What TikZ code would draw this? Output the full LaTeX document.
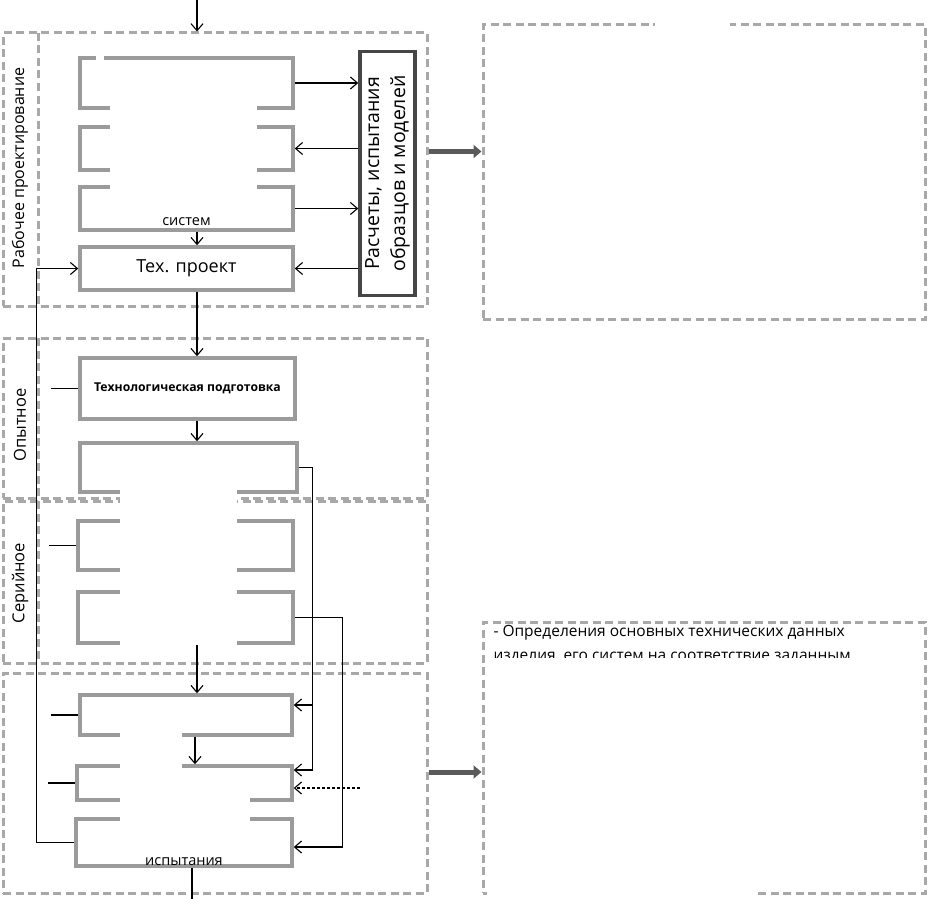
\documentclass[tikz,border=0pt]{standalone}
\usepackage{fontspec}
\setmainfont{Open Sans}
\usetikzlibrary{arrows.meta,positioning}
\definecolor{boxgray}{RGB}{155,155,155}
\definecolor{zonegray}{RGB}{168,168,168}
\definecolor{calcdark}{RGB}{70,70,70}
\definecolor{bigarrowgray}{RGB}{90,90,90}
\tikzset{arr/.style={-{Straight Barb[length=7pt,width=12pt]},line width=1.1pt},
 link/.style={line width=1.1pt},
 stagebox/.style={draw=boxgray,line width=3.5pt,minimum width=213pt,inner sep=2pt},
 zone/.style={draw=zonegray,line width=3pt,dash pattern=on 8pt off 4.5pt},
 bigarrow/.style={-{Triangle[length=8pt,width=13pt]},line width=5pt,bigarrowgray},
 patch/.style={fill=white,draw=none},
 every node/.style={font=\fontsize{14.5}{16}\selectfont}}

\begin{document}
\begin{tikzpicture}[x=1pt,y=-1pt]
\useasboundingbox (0,0) rectangle (929,899);
% stage zones
\node[zone,minimum width=424pt,minimum height=273pt] (s1) at (215,169.5) {};
\node[zone,minimum width=424pt,minimum height=160pt] (s2) at (215,418) {};
\node[zone,minimum width=424pt,minimum height=162pt] (s3) at (215,582) {};
\node[zone,minimum width=424pt,minimum height=220pt] (s4) at (215,783) {};
\node[zone,minimum width=442pt,minimum height=294pt] (r1) at (704,172) {};
\node[zone,minimum width=442pt,minimum height=271pt] (r2) at (704,757.5) {};
\draw[zone] (38,33)--(38,306) (38,338)--(38,498) (38,501)--(38,663);
\node[rotate=90,font=\fontsize{16}{19}\selectfont] (l1) at (20,168) {Рабочее проектирование};
\node[rotate=90,font=\fontsize{16.5}{19}\selectfont] (l2) at (20,425) {Опытное};
\node[rotate=90,font=\fontsize{16.5}{19}\selectfont] (l3) at (20,583) {Серийное};

% work design
\node[stagebox,minimum height=50pt] (b1) at (186.5,83) {};
\node[stagebox,minimum height=43pt] (b2) at (186.5,148.5) {};
\node[stagebox,minimum height=43pt] (b3) at (186.5,208.5) {};
\node[above=3pt of b3.south] (b3t) {систем};
\node[stagebox,minimum height=43pt,font=\fontsize{18}{21}\selectfont] (b4) at (186.5,268.5) {Тех. проект};
\node[draw=calcdark,line width=3.5pt,rotate=90,minimum width=244pt,minimum height=55pt,
 align=center,font=\fontsize{19.5}{26}\selectfont,inner sep=0pt] (calc) at (387.5,173.5)
 {Расчеты, испытания\\образцов и моделей};

% pilot and serial
\node[stagebox,minimum width=215pt,minimum height=61pt,font=\bfseries\fontsize{12.2}{14}\selectfont]
 (tech) at (187.5,388.5) {Технологическая подготовка};
\node[stagebox,minimum width=217pt,minimum height=49pt] (prod) at (188.5,467.5) {};
\node[stagebox,minimum width=215pt,minimum height=49pt] (ser1) at (185.5,545.5) {};
\node[stagebox,minimum width=215pt,minimum height=51pt] (ser2) at (185.5,617.5) {};

% tests
\node[stagebox,minimum width=212pt,minimum height=40pt] (tst1) at (186,715) {};
\node[stagebox,minimum width=215pt,minimum height=34pt] (tst2) at (184.5,783) {};
\node[stagebox,minimum width=216pt,minimum height=47pt] (tst3) at (184,842.5) {};
\node[above=-1pt of tst3.south] (tst3t) {испытания};

\node[anchor=north west,align=left,font=\fontsize{15.5}{24}\selectfont] (res)
 at (490,622) {- Определения основных технических данных\\изделия, его систем на соответствие заданным};

% connectors
\coordinate (in) at (197,0);
\coordinate (out) at (192,899);
\coordinate (ext) at (360,788);
\draw[arr] (in)--(in |- s1.north);
\draw[arr] (b1.east)--(b1.east -| calc.north);
\draw[arr] (calc.north |- b2.east)--(b2.east);
\draw[arr] (b3.east)--(b3.east -| calc.north);
\draw[arr] (calc.north |- b4.east)--(b4.east);
\draw[arr] ([xshift=10.5pt]b3.south)--([xshift=10.5pt]b4.north);
\draw[arr] ([xshift=10.5pt]b4.south)--([xshift=10.5pt]b4.south |- tech.north);
\draw[arr] ([xshift=9.5pt]tech.south)--([xshift=9.5pt]tech.south |- prod.north);
\draw[arr] ([xshift=11.5pt]ser2.south)--([xshift=11.5pt]ser2.south |- tst1.north);
\draw[arr] ([xshift=9pt]tst1.south)--([xshift=10.5pt]tst2.north);
\draw[link] ([xshift=8pt]tst3.south)--(out);
\draw[arr] (prod.east)--++(14,0)|-([yshift=13pt]tst2.east);
\draw[arr] ([xshift=14pt]prod.east)|-([yshift=10pt]tst1.east);
\draw[arr] (ser2.east)--++(48,0)|-([yshift=-4.5pt]tst3.east);
\draw[arr,densely dashed] (ext)--(ext -| tst2.east);
\draw[arr] (tst3.west)--++(-38,0)|-(b4.west);
\foreach \stage in {tech,ser1,tst1,tst2}
 \draw[link] (\stage.west)--++(-27,0);
\draw[bigarrow] ([yshift=-3pt]s1.east |- b2.east)--([yshift=-3pt]r1.west |- b2.east);
\draw[bigarrow] ([yshift=11pt]s4.east)--([yshift=11pt]s4.east -| r2.west);

% blanked areas
\foreach \xa/\ya/\xb/\yb in {96/20/104/78,110/76/257/207,120/473/237/645,120/727/182/837,
 120/792/250/837,655/12/730/38,487/658/921/805,487/805/755/899}
 \fill[patch] (\xa,\ya) rectangle (\xb,\yb);
\end{tikzpicture}
\end{document}
